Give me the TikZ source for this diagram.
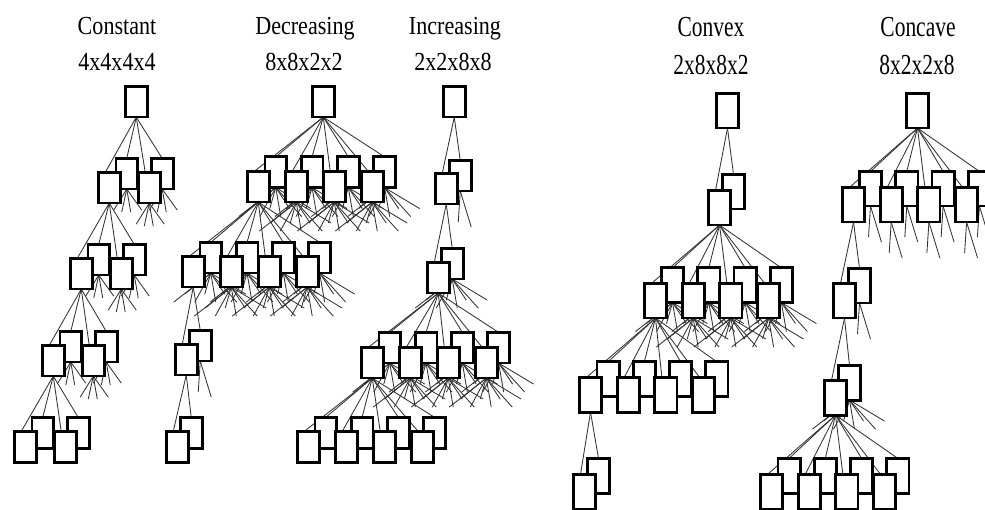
\documentclass[tikz,border=0pt]{standalone}
\usepackage{fontspec}
\setmainfont{Liberation Serif}
\pgfdeclarelayer{bg}
\pgfsetlayers{bg,main}
\def\bw{24.5}\def\bh{33.5}
\tikzset{
  bx/.style={draw=black, line width=2.8pt, fill=white, inner sep=0pt, outer sep=0pt,
    minimum width=\bw pt-2.8pt, minimum height=\bh pt-2.8pt},
  ln/.style={draw=black!80, line width=0.85pt},
  ttlL/.style={anchor=base, inner sep=0pt, font=\fontsize{26}{26}\selectfont, xscale=0.85},
  ttlR/.style={anchor=base, inner sep=0pt, font=\fontsize{29}{29}\selectfont, xscale=0.74},
}
% prefix, npairs, x0, y0, Df, dxb, Db, dyb
\newcommand\mkrow[8]{%
  \foreach \i in {1,...,#2}{%
    \pgfmathsetmacro\xx{#3+#6+(\i-1)*#7+\bw/2}%
    \pgfmathsetmacro\yy{#4-#8+\bh/2}%
    \node[bx] (#1-b\i) at (\xx,\yy) {};}%
  \foreach \i in {1,...,#2}{%
    \pgfmathsetmacro\xx{#3+(\i-1)*#5+\bw/2}%
    \pgfmathsetmacro\yy{#4+\bh/2}%
    \node[bx] (#1-f\i) at (\xx,\yy) {};}%
}
\newcommand\mkroot[3]{\node[bx] (#1) at (#2+\bw/2,#3+\bh/2) {};}
\newcommand\mkfan[3]{\foreach \i in {1,...,#3}{%
    \draw[ln] (#1.south) -- ([xshift=-4pt]#2-f\i.north);
    \draw[ln] (#1.south) -- (#2-b\i.north);}}
\newcommand\mkstubs[2]{\foreach \u/\v [count=\j] in #2 {\draw[ln] (#1.south) -- ++(\u,\v) coordinate (#1-s\j);}}
\newcommand\mkrowstubs[3]{\foreach \i in {1,...,#2}{\mkstubs{#1-b\i}{#3}}\foreach \i in {2,...,#2}{\mkstubs{#1-f\i}{#3}}}
\def\Stwo{-2/31,11/36}
\def\Sfour{-13/21,-5/23,4/23,15/21}
\def\Seight{-37/29,-16/29,5/29,26/29,-26/21,-6/21,14/21,35/21}
\begin{document}
\begin{tikzpicture}[x=1pt,y=-1pt]
\useasboundingbox (0,0) rectangle (985,510);
% titles
\node[ttlL] (t1) at (117,35) {Constant};
\node[ttlL] (t1n) at (117,71) {4x4x4x4};
\node[ttlL] (t2) at (305,35) {Decreasing};
\node[ttlL] (t2n) at (304,71) {8x8x2x2};
\node[ttlL] (t3) at (455,35) {Increasing};
\node[ttlL] (t3n) at (453,71) {2x2x8x8};
\node[ttlR] (t4) at (711,37) {Convex};
\node[ttlR] (t4n) at (711,75) {2x8x8x2};
\node[ttlR] (t5) at (918,37) {Concave};
\node[ttlR] (t5n) at (917,75) {8x2x2x8};
% Constant
\mkroot{c0}{124}{85}
\mkrow{c1}{2}{97}{171}{40}{17.5}{35.5}{14}
\mkrow{c2}{2}{69}{257}{40}{17.5}{35.5}{14}
\mkrow{c3}{2}{41}{344}{40}{17.5}{35.5}{14}
\mkrow{c4}{2}{13}{430}{40}{17.5}{35.5}{14}
% Decreasing
\mkroot{d0}{311}{85}
\mkrow{d1}{4}{246}{170}{38}{17.5}{36.3}{14.5}
\mkrow{d2}{4}{181}{255}{38}{17.5}{36.3}{14}
\mkrow{d3}{1}{174}{343}{0}{14}{0}{14}
\mkrow{d4}{1}{165}{430}{0}{14}{0}{14}
% Increasing
\mkroot{i0}{442}{85}
\mkrow{i1}{1}{434}{172}{0}{14}{0}{13}
\mkrow{i2}{1}{426}{261}{0}{14}{0}{14}
\mkrow{i3}{4}{360}{346}{38}{17.5}{36.3}{15}
\mkrow{i4}{4}{296}{430}{38}{17.5}{36.3}{14}
% right half
\def\bw{25}\def\bh{37.5}
% Convex
\mkroot{v0}{715}{92}
\mkrow{v1}{1}{707}{189}{0}{14}{0}{16}
\mkrow{v2}{4}{643}{282}{37.7}{17}{36.3}{15.5}
\mkrow{v3}{4}{578}{376}{37.7}{17.5}{36.3}{15.5}
\mkrow{v4}{1}{572}{473}{0}{14}{0}{16}
% Concave
\mkroot{k0}{905}{92}
\mkrow{k1}{4}{841}{186}{37.7}{17}{36.3}{16}
\mkrow{k2}{1}{832}{282}{0}{15}{0}{15}
\mkrow{k3}{1}{823}{379}{0}{14}{0}{15}
\mkrow{k4}{4}{759}{473}{37.7}{17.5}{36.3}{16}
\begin{pgfonlayer}{bg}
% Constant
\mkfan{c0}{c1}{2}\mkfan{c1-f1}{c2}{2}\mkfan{c2-f1}{c3}{2}\mkfan{c3-f1}{c4}{2}
\mkrowstubs{c1}{2}{\Sfour}\mkrowstubs{c2}{2}{\Sfour}\mkrowstubs{c3}{2}{\Sfour}
% Decreasing
\mkfan{d0}{d1}{4}\mkfan{d1-f1}{d2}{4}\mkfan{d2-f1}{d3}{1}\mkfan{d3-f1}{d4}{1}
\mkrowstubs{d1}{4}{\Seight}\mkrowstubs{d2}{4}{\Seight}\mkstubs{d3-b1}{\Stwo}
% Increasing
\mkfan{i0}{i1}{1}\mkfan{i1-f1}{i2}{1}\mkfan{i2-f1}{i3}{4}\mkfan{i3-f1}{i4}{4}
\mkstubs{i1-b1}{\Stwo}\mkstubs{i2-b1}{\Seight}\mkrowstubs{i3}{4}{\Seight}
% Convex
\mkfan{v0}{v1}{1}\mkfan{v1-f1}{v2}{4}\mkfan{v2-f1}{v3}{4}\mkfan{v3-f1}{v4}{1}
\mkrowstubs{v2}{4}{\Seight}
% Concave
\mkfan{k0}{k1}{4}\mkfan{k1-f1}{k2}{1}\mkfan{k2-f1}{k3}{1}\mkfan{k3-f1}{k4}{4}
\mkrowstubs{k1}{4}{\Stwo}\mkstubs{k2-b1}{\Stwo}\mkstubs{k3-b1}{\Seight}
\end{pgfonlayer}
\end{tikzpicture}
\end{document}
